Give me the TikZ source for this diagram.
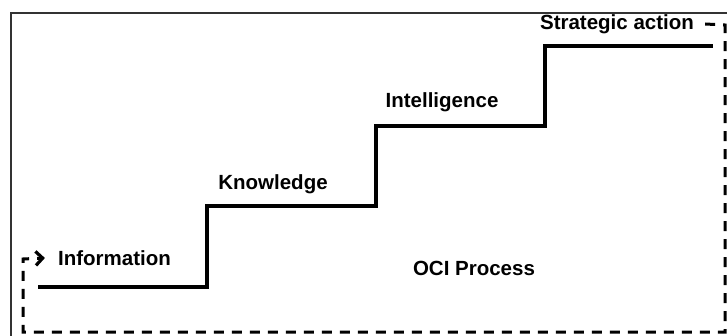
\documentclass[tikz,border=0pt]{standalone}
\usepackage{fontspec}
\setmainfont{Liberation Sans}
\usetikzlibrary{arrows.meta}
\begin{document}
\begin{tikzpicture}[x=1pt,y=-1pt,
  lbl/.style={font=\fontsize{20.5}{23}\selectfont\bfseries, inner sep=0pt, anchor=center},
  stair/.style={line width=3.4pt, line join=miter},
  loop/.style={line width=3pt, dash pattern=on 10pt off 8pt},
  frameline/.style={line width=1.3pt, draw=black!80}]
  \useasboundingbox (0,0) rectangle (727,336);
  \fill[white] (0,0) rectangle (727,336);
  % outer frame (left and top edges)
  \draw[frameline] (11,336) -- (11,13) -- (727,13);

  % stages
  \node[lbl] (info)   at (114.5,258) {Information};
  \node[lbl] (know)   at (273,184)   {Knowledge};
  \node[lbl] (intel)  at (442,102)   {Intelligence};
  \node[lbl] (strat)  at (617,24)    {Strategic action};
  \node[lbl] (oci)    at (474,268)   {OCI Process};

  % staircase
  \coordinate (s0) at (38,287);
  \coordinate (s1) at (207,287);
  \coordinate (s2) at (207,206);
  \coordinate (s3) at (376,206);
  \coordinate (s4) at (376,126);
  \coordinate (s5) at (545,126);
  \coordinate (s6) at (545,46);
  \coordinate (s7) at (713,46);
  \draw[stair] (s0) -- (s1) -- (s2) -- (s3) -- (s4) -- (s5) -- (s6) -- (s7);

  % feedback loop back to the start
  \coordinate (r1) at (725,25);
  \coordinate (r2) at (725,332);
  \coordinate (r3) at (23,332);
  \coordinate (r4) at (23,259);
  \draw[loop, -{Straight Barb[length=7pt,width=14pt,line width=3.2pt]}]
    ([xshift=11pt]strat.east) -- (r1) -- (r2) -- (r3) -- (r4) -- ([xshift=-13pt]info.west);
\end{tikzpicture}
\end{document}
